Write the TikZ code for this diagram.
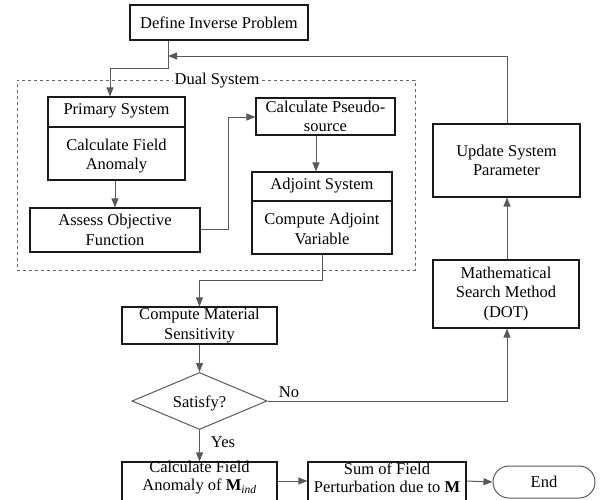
\documentclass[tikz,border=0pt]{standalone}
\usepackage{fontspec}
\setmainfont{Liberation Serif}
\usetikzlibrary{arrows.meta,shapes.geometric,calc}
\begin{document}
\begin{tikzpicture}[x=1pt,y=-1pt,
  font=\fontsize{16.5}{19.5}\selectfont,
  box/.style={draw=black!90,line width=1.1pt,rectangle,inner sep=0pt,align=center},
  lbl/.style={inner sep=0pt,align=center},
  conn/.style={draw=black!65,line width=1pt},
  arr/.style={conn,-{Triangle[length=9pt,width=7pt]}},
  ]
\useasboundingbox (0,0) rectangle (602,499);
\begin{scope}
\clip (0,0) rectangle (602,499);
% dashed dual system
\node[draw=black!60,dashed,line width=0.9pt,minimum width=398pt,minimum height=190pt,inner sep=0pt] (dual) at (216,175) {};
\node[lbl,fill=white,inner xsep=2pt] (duallbl) at (217,81) {Dual System};

\node[box,minimum width=178pt,minimum height=35pt] (define) at (219,22.5) {Define Inverse Problem};

% primary system
\node[box,minimum width=137pt,minimum height=83pt] (prim) at (116.5,138.5) {};
\draw[black!90,line width=1.1pt] (prim.west |- 0,127) -- (prim.east |- 0,127);
\node[lbl] (primt) at (116.5,111) {Primary System};
\node[lbl] (primb) at (116.5,156) {Calculate Field\\Anomaly};

\node[box,minimum width=170pt,minimum height=44pt] (assess) at (115,230) {Assess Objective\\Function};

\node[box,minimum width=139pt,minimum height=37pt] (pseudo) at (325.5,116.5) {Calculate Pseudo-\\source};

% adjoint system
\node[box,minimum width=140pt,minimum height=82pt] (adj) at (322,213) {};
\draw[black!90,line width=1.1pt] (adj.west |- 0,201) -- (adj.east |- 0,201);
\node[lbl] (adjt) at (322,186) {Adjoint System};
\node[lbl] (adjb) at (322,229) {Compute Adjoint\\Variable};

\node[box,minimum width=155pt,minimum height=37pt] (cms) at (199.5,325.5) {Compute Material\\Sensitivity};

\node[draw=black!65,line width=1pt,diamond,aspect=2.37,minimum width=135pt,minimum height=57pt,inner sep=0pt] (sat) at (199.5,401) {};
\node[lbl] (satt) at (199.5,403) {Satisfy?};

\node[box,minimum width=146pt,minimum height=68pt] (math) at (506,294) {Mathematical\\Search Method\\(DOT)};
\node[box,minimum width=147pt,minimum height=73pt] (upd) at (506.5,160.5) {Update System\\Parameter};

\node[box,minimum width=155pt,minimum height=50pt] (calc) at (199.5,487) {};
\node[lbl,font=\fontsize{16.5}{18}\selectfont] (calct) at (199.5,477.5) {Calculate Field\\Anomaly of \textbf{M}\textsubscript{\textit{ind}}};
\node[box,minimum width=158pt,minimum height=50pt] (sum) at (387,487) {};
\node[lbl,font=\fontsize{16.5}{18}\selectfont] (sumt) at (387,478) {Sum of Field\\Perturbation due to \textbf{M}};

\node[draw=black!65,line width=1pt,rounded corners=16pt,minimum width=102pt,minimum height=32pt,inner sep=0pt] (end) at (544,482) {End};

\node[lbl] (no) at (289,392) {No};
\node[lbl] (yes) at (223,442) {Yes};

% coordinates
\coordinate (d1) at (168,68);
\coordinate (d2) at (110,68);
\coordinate (j) at (168,56);
\coordinate (a1) at (228,229);
\coordinate (a2) at (228,117);
\coordinate (b1) at (322,280);
\coordinate (b2) at (199.5,280);
\coordinate (n1) at (507,401);

% connectors
\draw[conn] (define.south -| d1) -- (d1) -- (d2);
\draw[arr] (d2) -- (prim.north -| d2);
\draw[arr] (upd.north -| 507,0) -- (j -| 507,0) -- (j);
\draw[arr] (prim.south -| 115,0) -- (assess.north -| 115,0);
\draw[arr] (assess.east |- a1) -- (a1) -- (a2) -- (pseudo.west |- a2);
\draw[arr] (pseudo.south -| 316,0) -- (adj.north -| 316,0);
\draw[arr] (adj.south -| b1) -- (b1) -- (b2) -- (cms.north);
\draw[arr] (cms.south) -- (sat.north);
\draw[arr] (sat.east) -- (n1) -- (math.south -| n1);
\draw[arr] (math.north -| n1) -- (upd.south -| n1);
\draw[arr] (sat.south) -- (calc.north);
\draw[arr] (calc.east |- 0,481) -- (sum.west |- 0,481);
\draw[arr] (sum.east |- 0,481) -- (end.west);
\end{scope}
\end{tikzpicture}
\end{document}
